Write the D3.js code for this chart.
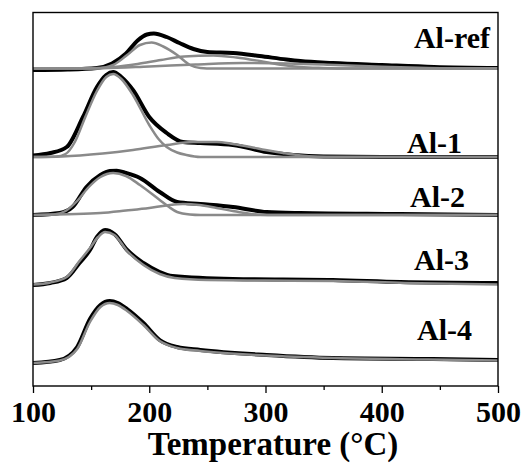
<!DOCTYPE html>
<html>
<head>
<meta charset="utf-8">
<script src="https://cdn.jsdelivr.net/npm/d3@7"></script>
<style>
  body { margin: 0; background: #fff; }
  text { font-family: "Liberation Serif", "Times New Roman", serif; font-weight: bold; fill: #000; }
</style>
</head>
<body>
<div id="chart-area"></div>
<script>
//Data: [temperature (°C), signal (a.u.) above each sample's baseline]
var samples = ["Al-ref", "Al-1", "Al-2", "Al-3", "Al-4"];
var offsets = [317.5, 229, 171, 101, 24];
var xTicks = [100, 200, 300, 400, 500];
var xMinorTicks = [150, 250, 350, 450];

var refData = [[100,-1.5],[130,-1],[155,0.5],[168,5],[180,15],[190,28],[198,34],[204,35],[215,31.5],[226,25.5],[238,19.5],[250,16.5],[272,15.5],[295,12.5],[318,9],[330,7.5],[358,5.5],[400,3.5],[445,1.5],[500,0.5]];
var refFit1 = [[100,0],[155,0],[162,1],[169,3.5],[181,13.5],[192,23.5],[202,26],[212,22],[224,13.5],[235,3.5],[244,0.5],[255,0],[500,0]];
var refFit2 = [[100,0],[150,0.3],[170,1.5],[190,4.5],[210,8.5],[230,12],[255,13],[275,11],[295,7.5],[315,3.5],[330,1.5],[350,0.5],[370,0],[500,0]];
var refFit3 = [[100,0],[160,0.3],[200,2],[240,4],[280,5.5],[320,5],[360,3.5],[400,1.8],[440,0.5],[480,0],[500,0]];

var al1Data = [[100,1.5],[115,4],[129,10],[143,40],[155,70],[163,82],[169,85],[176,80],[186,67],[200,40],[215,24],[229,15],[244,14],[272,12],[301,5],[324,2],[350,0.5],[400,0],[500,0]];
var al1Fit1 = [[100,0],[120,0.5],[128,3],[136,15],[145,40],[155,66],[163,80],[169,83],[176,78],[186,62],[200,32],[208,18],[215,10],[224,4.5],[232,2],[244,0],[500,0]];
var al1Fit2 = [[100,0],[125,0.5],[160,3.5],[186,7],[215,12],[238,15],[258,15],[272,13],[287,10],[300,7],[315,4],[330,1.5],[345,0.3],[360,0],[500,0]];

var al2Data = [[100,0],[123,2],[134,8],[146,28],[158,40],[166,44],[172,44.3],[180,42],[192,37],[209,23],[224,13],[244,11],[272,8],[301,3],[330,2],[416,1],[500,0]];
var al2Fit1 = [[100,0],[118,0.5],[128,4],[138,14],[148,28],[158,38],[169,42],[180,39],[192,30],[209,15],[217,8],[224,3],[235,0.5],[244,0],[500,0]];
var al2Fit2 = [[100,0],[130,0.8],[158,2],[180,4.5],[200,7],[215,9.5],[229,11],[243,10],[258,7],[272,4],[285,1.5],[295,0.3],[310,0],[500,0]];

var al3Data = [[100,0],[115,2],[129,7],[140,22],[149,35],[155,48],[162,55],[170,51],[181,35],[195,22],[209,13],[220,9],[272,6],[358,5],[416,3],[500,2]];
var al3Fit = [[100,0.5],[115,2.5],[129,8],[140,24],[149,37],[156,48],[162,53],[170,50],[181,34],[195,20],[209,11],[222,7],[250,5],[300,4.5],[360,4],[420,2],[500,0.5]];

var al4Data = [[100,-1],[123,2],[138,15],[149,43],[158,57],[166,61],[173,59],[181,53],[195,39],[209,22],[224,15],[244,12],[301,7],[358,4],[444,3],[500,2]];
var al4Fit = [[100,-1],[123,1.5],[138,13],[149,40],[158,55],[166,59],[173,57],[181,51],[195,37],[209,21],[224,14],[244,11],[300,6.5],[360,4],[440,2.5],[500,1.5]];

var measured = [refData, al1Data, al2Data, al3Data, al4Data];
var fitted = [[refFit1, refFit2, refFit3], [al1Fit1, al1Fit2], [al2Fit1, al2Fit2], [al3Fit], [al4Fit]];

//Margin
var margin = { left:33, right:25, top:12.5, bottom:79 },
    width = 523 - margin.left - margin.right,
    height = 465 - margin.top - margin.bottom;

//Svg containers
var svg = d3.select("#chart-area").append("svg")
    .attr("width", 523)
    .attr("height", 465);
var g = svg.append("g")
    .attr("transform", "translate(" + margin.left + "," + margin.top + ")");

//Scales
var x = d3.scaleLinear().domain([100, 500]).range([0, width]);
var y = d3.scaleLinear().domain([0, height]).range([height, 0]);

g.append("clipPath").attr("id", "clip")
  .append("rect").attr("width", width).attr("height", height);

var plot = g.append("g").attr("clip-path", "url(#clip)");

//Curves
samples.forEach(function(name, i) {
    var line = d3.line()
        .x(function(d) { return x(d[0]); })
        .y(function(d) { return y(d[1] + offsets[i]); })
        .curve(d3.curveMonotoneX);

    plot.append("path")
        .attr("d", line(measured[i]))
        .attr("fill", "none")
        .attr("stroke", "#000")
        .attr("stroke-width", 4)
        .attr("stroke-linejoin", "round");

    fitted[i].forEach(function(f) {
        plot.append("path")
            .attr("d", line(f))
            .attr("fill", "none")
            .attr("stroke", "#8a8a8a")
            .attr("stroke-width", 2.5);
    });
});

//Sample labels
var labelPos = [[490, 48], [462, 153], [465, 207], [469, 270], [472, 340]];
samples.forEach(function(name, i) {
    svg.append("text")
        .attr("x", labelPos[i][0])
        .attr("y", labelPos[i][1])
        .attr("text-anchor", "end")
        .style("font-size", "30px")
        .text(name);
});

//Axis
var xAxisCall = d3.axisBottom(x)
    .tickValues(xTicks)
    .tickSizeInner(7)
    .tickSizeOuter(0)
    .tickPadding(8);
var xAxis = g.append("g")
    .attr("transform", "translate(0," + height + ")")
    .call(xAxisCall);
xAxis.select(".domain").remove();
xAxis.selectAll("line").attr("stroke-width", 1.3);
xAxis.selectAll("text")
    .attr("font-family", null)
    .style("font-size", "30px");

var minorCall = d3.axisBottom(x)
    .tickValues(xMinorTicks)
    .tickSizeInner(4)
    .tickSizeOuter(0)
    .tickFormat("");
var minorAxis = g.append("g")
    .attr("transform", "translate(0," + height + ")")
    .call(minorCall);
minorAxis.select(".domain").remove();
minorAxis.selectAll("line").attr("stroke-width", 1.3);

//Frame
g.append("rect")
    .attr("width", width)
    .attr("height", height)
    .attr("fill", "none")
    .attr("stroke", "#000")
    .attr("stroke-width", 1.4);

//Title
svg.append("text")
    .attr("x", 273)
    .attr("y", 455)
    .attr("text-anchor", "middle")
    .style("font-size", "33px")
    .text("Temperature (°C)");
</script>
</body>
</html>
